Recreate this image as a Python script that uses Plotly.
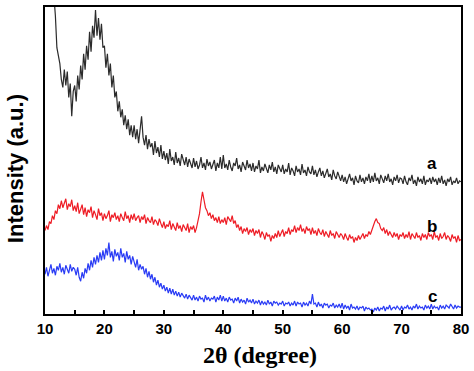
import plotly.graph_objects as go

# 2-theta grid (degrees)
THETA_START = 10.0
THETA_STEP = 0.25

# Intensity (a.u.), 10..80 deg every 0.25 deg (20 values per 5 deg)
series_a = [
    440, 420, 400, 380, 360, 345, 325, 300, 268, 258, 252, 236, 228, 246, 230, 244, 218, 232, 199, 224,
    230, 214, 240, 226, 250, 236, 262, 246, 270, 256, 284, 264, 290, 278, 306, 280, 298, 276, 292, 268,
    270, 248, 262, 240, 252, 228, 240, 218, 224, 204, 214, 198, 206, 190, 200, 186, 196, 180, 190, 178,
    190, 176, 186, 172, 184, 199, 178, 170, 180, 166, 176, 168, 172, 160, 174, 162, 168, 158, 170, 156,
    164, 155, 162, 151, 166, 154, 158, 150, 163, 152, 157, 149, 161, 155, 150, 158, 148, 156, 151, 147,
    157, 148, 154, 146, 150, 158, 147, 152, 145, 156, 149, 153, 146, 150, 155, 144, 152, 147, 158, 146,
    160, 147, 151, 145, 155, 148, 144, 152, 149, 157, 146, 150, 143, 153, 148, 145, 155, 147, 151, 144,
    152, 143, 149, 146, 155, 142, 148, 144, 151, 147, 142, 150, 145, 153, 143, 148, 141, 150, 146, 143,
    150, 141, 146, 143, 152, 140, 147, 144, 139, 149, 143, 146, 140, 151, 142, 145, 139, 148, 143, 141,
    149, 140, 145, 138, 143, 147, 139, 144, 137, 142, 146, 138, 141, 135, 145, 139, 136, 143, 138, 134,
    140, 133, 138, 131, 136, 141, 134, 137, 130, 139, 134, 132, 140, 133, 137, 131, 138, 134, 141, 132,
    139, 133, 142, 134, 137, 131, 140, 135, 132, 139, 134, 141, 133, 136, 130, 138, 134, 140, 132, 137,
    136, 131, 139, 133, 130, 137, 134, 140, 131, 135, 129, 138, 133, 136, 131, 139, 130, 135, 133, 137,
    131, 138, 133, 136, 130, 137, 132, 139, 131, 135, 129, 136, 133, 138, 130, 134, 132, 137, 131, 134,
    133,
]
series_b = [
    84, 89, 85, 93, 91, 99, 95, 104, 101, 110, 106, 114, 107, 112, 116, 105, 111, 108, 115, 104,
    109, 103, 112, 101, 106, 110, 100, 107, 98, 105, 102, 108, 97, 104, 100, 95, 106, 99, 102, 94,
    101, 96, 99, 104, 93, 100, 97, 102, 95, 99, 93, 101, 97, 94, 103, 96, 99, 92, 100, 95,
    101, 94, 97, 99, 92, 98, 95, 100, 91, 97, 94, 92, 98, 90, 95, 93, 89, 96, 91, 87,
    93, 86, 90, 88, 94, 85, 91, 87, 84, 92, 86, 89, 83, 90, 87, 84, 91, 82, 88, 85,
    89, 82, 87, 93, 101, 113, 123, 115, 107, 104, 99, 102, 96, 100, 94, 97, 92, 98, 91, 95,
    92, 97, 90, 98, 95, 93, 99, 91, 94, 87, 90, 84, 88, 81, 86, 83, 87, 80, 85, 82,
    86, 79, 84, 81, 85, 77, 83, 80, 75, 82, 78, 80, 73, 79, 76, 81, 77, 84, 78, 82,
    85, 78, 83, 81, 87, 80, 85, 83, 89, 82, 87, 84, 90, 83, 86, 81, 88, 84, 86, 80,
    87, 81, 84, 79, 86, 82, 80, 85, 78, 83, 80, 77, 84, 79, 81, 76, 83, 79, 77, 81,
    79, 75, 81, 77, 74, 80, 76, 78, 72, 77, 74, 79, 75, 78, 81, 76, 80, 78, 83, 80,
    85, 89, 93, 96, 92, 91, 86, 84, 87, 81, 85, 79, 83, 80, 77, 82, 78, 81, 75, 80,
    78, 82, 76, 80, 77, 83, 75, 81, 78, 76, 82, 77, 79, 74, 81, 77, 80, 75, 82, 78,
    80, 75, 83, 77, 79, 74, 81, 76, 78, 82, 75, 79, 77, 73, 80, 76, 78, 72, 79, 74,
    75,
]
series_c = [
    40, 47, 38, 45, 50, 41, 46, 39, 48, 44, 51, 42, 47, 40, 49, 45, 41, 50, 43, 47,
    45, 39, 47, 37, 33, 42, 36, 46, 41, 51, 44, 54, 47, 57, 50, 59, 52, 62, 54, 64,
    55, 66, 59, 72, 57, 63, 53, 65, 58, 62, 54, 66, 57, 61, 52, 63, 55, 59, 50, 58,
    53, 47, 55, 44, 50, 45, 48, 40, 46, 37, 43, 35, 40, 32, 37, 29, 34, 27, 31, 25,
    29, 23, 27, 21, 26, 20, 25, 19, 23, 18, 22, 17, 21, 19, 16, 20, 15, 19, 17, 14,
    19, 14, 17, 13, 18, 15, 16, 12, 19, 14, 17, 13, 16, 15, 18, 12, 17, 14, 19, 13,
    18, 13, 16, 12, 17, 14, 15, 11, 16, 13, 17, 11, 15, 12, 14, 10, 16, 12, 14, 11,
    15, 10, 13, 11, 14, 9, 13, 10, 12, 9, 14, 10, 12, 8, 13, 11, 12, 9, 11, 10,
    13, 8, 11, 10, 12, 8, 11, 9, 13, 8, 12, 10, 11, 7, 12, 9, 11, 8, 13, 10,
    20, 10, 11, 7, 12, 8, 10, 6, 11, 9, 10, 6, 9, 8, 11, 6, 9, 7, 10, 6,
    11, 5, 9, 6, 8, 4, 10, 6, 7, 5, 8, 4, 7, 6, 8, 3, 7, 5, 6, 4,
    5, 2, 6, 4, 7, 3, 6, 5, 8, 3, 7, 5, 9, 4, 6, 7, 5, 8, 6, 4,
    8, 4, 7, 6, 9, 5, 7, 4, 8, 6, 10, 5, 8, 6, 7, 4, 9, 6, 8, 5,
    10, 5, 8, 6, 7, 4, 9, 6, 8, 5, 9, 7, 6, 10, 7, 5, 9, 6, 8, 7,
    7,
]
series_names = ["a", "b", "c"]
series_colors = ["#2b2b2b", "#ee1c25", "#2a3cf5"]
label_y = [151, 88, 18]
label_x = 75.2

x_ticks = [10, 20, 30, 40, 50, 60, 70, 80]

theta = [THETA_START + i * THETA_STEP for i in range(len(series_a))]

fig = go.Figure()
for name, ys, col in zip(series_names, [series_a, series_b, series_c], series_colors):
    fig.add_trace(go.Scatter(x=theta[:len(ys)], y=ys, mode="lines", name=name,
                             line=dict(color=col, width=1.2), showlegend=False))

for name, ly in zip(series_names, label_y):
    fig.add_annotation(x=label_x, y=ly, text=name, showarrow=False,
                       font=dict(family="Liberation Sans", size=17, color="black", weight="bold"))

fig.add_annotation(xref="paper", yref="paper", x=-0.072, y=0.472, text="Intensity (a.u.)",
                   textangle=-90, showarrow=False, xanchor="center", yanchor="middle",
                   font=dict(family="Liberation Sans", size=22, color="black", weight="bold"))
fig.add_annotation(xref="paper", yref="paper", x=0.517, y=-0.135, text="2θ (degree)",
                   showarrow=False, xanchor="center", yanchor="middle",
                   font=dict(family="Liberation Serif", size=24, color="black", weight="bold"))

fig.update_layout(
    width=474, height=371,
    margin=dict(l=45, r=13, t=5, b=57),
    paper_bgcolor="white", plot_bgcolor="white",
    xaxis=dict(range=[10, 80], tickvals=x_ticks, ticks="inside", ticklen=4, tickwidth=2,
               tickcolor="black", showline=True, linecolor="black", linewidth=2, mirror=True,
               showgrid=False, zeroline=False,
               minor=dict(dtick=5, tick0=10, ticks="inside", ticklen=4, tickwidth=2, tickcolor="black"),
               tickfont=dict(family="Liberation Sans", size=15, color="black", weight="bold")),
    yaxis=dict(range=[0, 309], showticklabels=False, ticks="", showline=True, linecolor="black",
               linewidth=2, mirror=True, showgrid=False, zeroline=False),
)

fig.write_html("out.html", config={"displayModeBar": False},
               post_script="document.body.style.margin='0';")
